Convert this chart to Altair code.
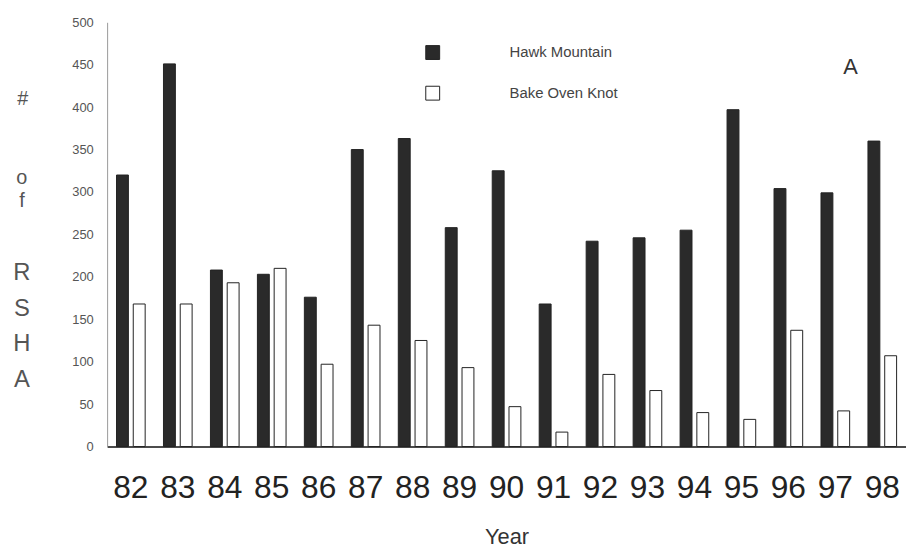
import altair as alt
import pandas as pd

years = ["82", "83", "84", "85", "86", "87", "88", "89", "90", "91", "92", "93", "94", "95", "96", "97", "98"]
hawk = [320, 451, 208, 203, 176, 350, 363, 258, 325, 168, 242, 246, 255, 397, 304, 299, 360]
bake = [168, 168, 193, 210, 97, 143, 125, 93, 47, 17, 85, 66, 40, 32, 137, 42, 107]
series = ["Hawk Mountain", "Bake Oven Knot"]
ytitle_parts = [["#"], ["o", "f"], ["R", "S", "H", "A"]]

rows = []
for i, y in enumerate(years):
    rows.append({"Year": y, "Site": series[0], "Count": hawk[i]})
    rows.append({"Year": y, "Site": series[1], "Count": bake[i]})
df = pd.DataFrame(rows)

FONT = "Liberation Sans"

bars = alt.Chart(df).mark_bar(stroke="#222", strokeWidth=1).encode(
    x=alt.X("Year:N", sort=years,
            scale=alt.Scale(paddingInner=0.39, paddingOuter=0.2),
            axis=alt.Axis(title="Year", labelAngle=0, labelFontSize=32, labelColor="#222",
                          labelFont=FONT, ticks=False, domainColor="#111", domainWidth=1.5,
                          labelPadding=26, titleFontSize=22, titleFont=FONT,
                          titleFontWeight="normal", titleColor="#333", titlePadding=24)),
    xOffset=alt.XOffset("Site:N", sort=series, scale=alt.Scale(paddingInner=0.29)),
    y=alt.Y("Count:Q", scale=alt.Scale(domain=[0, 500], nice=False),
            axis=alt.Axis(values=list(range(0, 501, 50)), ticks=False, grid=False,
                          labelFontSize=13, labelColor="#555", labelFont=FONT,
                          labelPadding=14, domainColor="#999", title=None)),
    color=alt.Color("Site:N", sort=series,
                    scale=alt.Scale(domain=series, range=["#2a2a2a", "#ffffff"]),
                    legend=alt.Legend(title=None, orient="none", legendX=321, legendY=23,
                                      symbolType="square", symbolSize=196,
                                      symbolStrokeColor="#222", symbolStrokeWidth=1,
                                      labelOffset=70, rowPadding=22, labelFontSize=15,
                                      labelColor="#444", labelFont=FONT)),
)

one = pd.DataFrame({"k": [0]})

label_a = alt.Chart(one).mark_text(
    text="A", fontSize=22, font=FONT, color="#333", align="center", baseline="middle"
).encode(x=alt.value(750), y=alt.value(45))

t_hash = alt.Chart(one).mark_text(
    text=ytitle_parts[0], fontSize=20, font=FONT, color="#555", align="center", baseline="middle"
).encode(x=alt.value(-85), y=alt.value(77))

t_of = alt.Chart(one).mark_text(
    text=ytitle_parts[1], fontSize=20, font=FONT, color="#555", align="center",
    baseline="middle", lineHeight=23
).encode(x=alt.value(-86), y=alt.value(157))

t_rsha = alt.Chart(one).mark_text(
    text=ytitle_parts[2], fontSize=24, font=FONT, color="#555", align="center",
    baseline="middle", lineHeight=36
).encode(x=alt.value(-86), y=alt.value(253))

chart = alt.layer(bars, label_a, t_hash, t_of, t_rsha).properties(
    width=806, height=428,
    background="white",
    autosize=alt.AutoSizeParams(type="none"),
    padding={"left": 100, "top": 12, "right": 0, "bottom": 107},
).configure_view(strokeWidth=0)

chart.save("out.html", embed_options={"renderer": "svg", "actions": False})
